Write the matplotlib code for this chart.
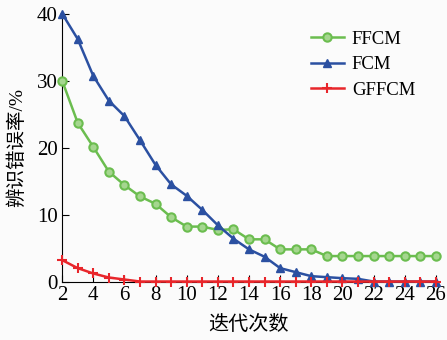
import numpy as np
import matplotlib.pyplot as plt

plt.rcParams['font.family'] = ['Liberation Serif', 'Noto Sans CJK SC']

# iterations
it = np.arange(2, 27)

# error rate (%) per method
ffcm = [30.0, 23.7, 20.1, 16.4, 14.4, 12.7, 11.6, 9.6, 8.2, 8.2, 7.7, 7.8,
        6.3, 6.3, 4.8, 4.8, 4.8, 3.8, 3.8, 3.8, 3.8, 3.8, 3.8, 3.8, 3.8]
fcm = [40.0, 36.2, 30.7, 27.0, 24.7, 21.1, 17.4, 14.5, 12.8, 10.7, 8.4, 6.4,
       4.8, 3.7, 2.0, 1.4, 0.8, 0.65, 0.5, 0.4, 0.0, 0.0, 0.0, 0.0, 0.0]
gffcm = [3.2, 2.0, 1.2, 0.6, 0.3, 0.0, 0.0, 0.0, 0.0, 0.0, 0.0, 0.0, 0.0,
         0.0, 0.0, 0.0, 0.0, 0.0, 0.0, 0.0, 0.0, 0.0, 0.0, 0.0, 0.0]

fig = plt.figure(figsize=(4.47, 3.4), dpi=100, facecolor='#fbfbfb')
ax = fig.add_axes([0.139, 0.172, 0.836, 0.788], facecolor='#fbfbfb')

ax.plot(it, ffcm, '-o', color='#6bbd4f', lw=1.8, ms=6, mfc='#a5d68f', mec='#6bbd4f', mew=1.5,
        label='FFCM', clip_on=False, zorder=3)
ax.plot(it, fcm, '-^', color='#2b50a1', lw=1.8, ms=6, label='FCM', clip_on=False, zorder=4)
ax.plot(it, gffcm, '-+', color='#e8262b', lw=1.8, ms=7, mew=1.5, label='GFFCM', clip_on=False, zorder=5)

ax.set_xlim(2, 26)
ax.set_ylim(0, 40)
ax.set_xticks(np.arange(2, 27, 2))
ax.set_yticks([0, 10, 20, 30, 40])
ax.tick_params(direction='in', labelsize=15, length=5, width=0.8, pad=3)
for s in ['top', 'right']:
    ax.spines[s].set_visible(False)
ax.spines['left'].set_linewidth(0.8)
ax.spines['bottom'].set_linewidth(0.8)

ax.set_xlabel('迭代次数', fontsize=14.5, labelpad=8)
ax.set_ylabel('辨识错误率/%', fontsize=14, labelpad=8)

ax.legend(loc='upper right', bbox_to_anchor=(0.99, 1.0), frameon=False, fontsize=13.5,
          handlelength=1.8, labelspacing=0.45, handletextpad=0.4)

fig.savefig('out.png', dpi=100, facecolor=fig.get_facecolor())
